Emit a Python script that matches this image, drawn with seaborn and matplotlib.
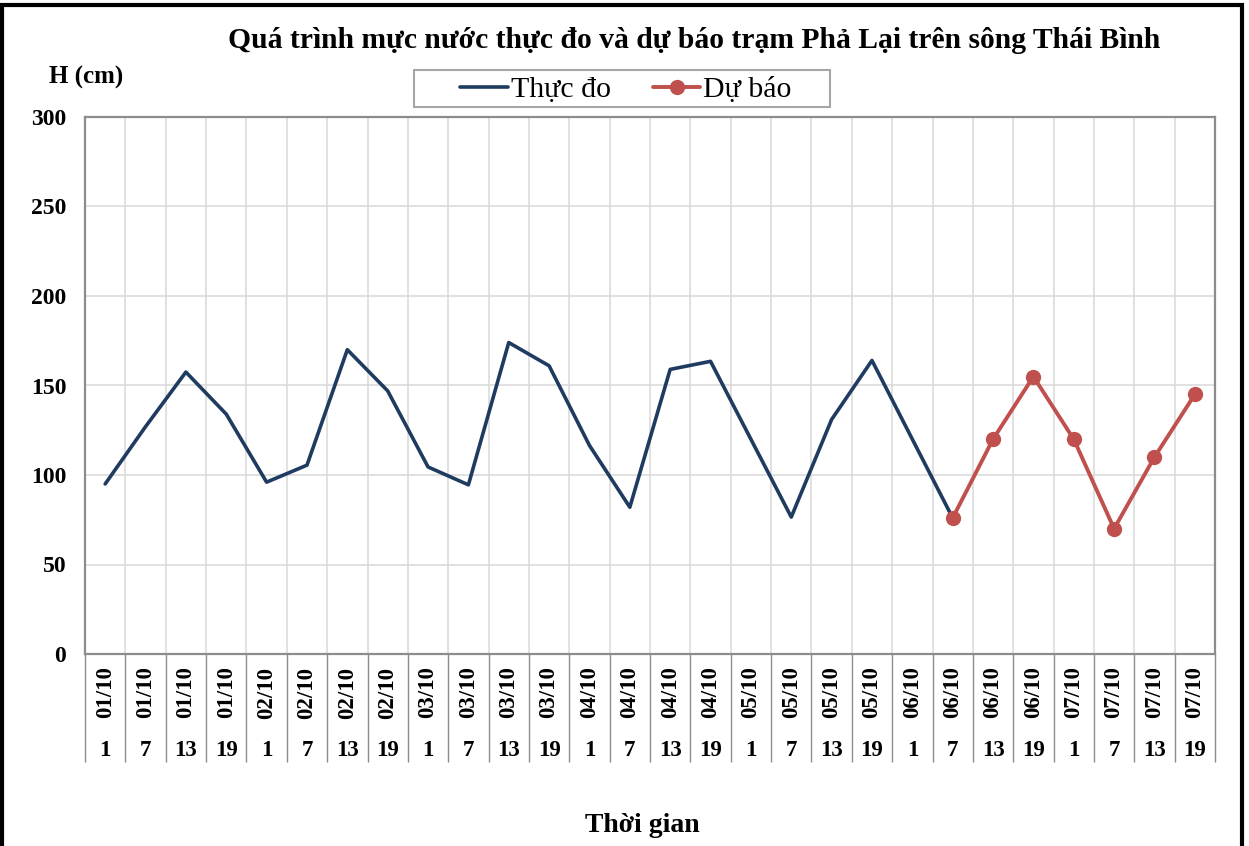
import matplotlib
matplotlib.use("Agg")
import matplotlib.pyplot as plt
import matplotlib.patches as mpatches
import matplotlib.transforms as mtransforms
import seaborn as sns
import pandas as pd
import numpy as np

# ---- data ----
dates = ["01/10"] * 4 + ["02/10"] * 4 + ["03/10"] * 4 + ["04/10"] * 4 + \
        ["05/10"] * 4 + ["06/10"] * 4 + ["07/10"] * 4
hours = ["1", "7", "13", "19"] * 7
observed = [95, 127, 157.5, 134, 96, 105.5, 170, 147, 104.5, 94.5, 174, 161,
            116.5, 82, 159, 163.5, 120, 76.5, 131, 164, 120, 76]
forecast_start = 21
forecast = [76, 120, 155, 120, 70, 110, 145]

y_ticks = [0, 50, 100, 150, 200, 250, 300]
title = "Quá trình mực nước thực đo và dự báo trạm Phả Lại trên sông Thái Bình"
y_label = "H (cm)"
x_label = "Thời gian"
series_names = ["Thực đo", "Dự báo"]

# ---- styling ----
sns.set_theme(style="white")
plt.rcParams["font.family"] = ["Liberation Serif", "DejaVu Serif"]
plt.rcParams["text.color"] = "black"
plt.rcParams["xtick.color"] = "black"
plt.rcParams["ytick.color"] = "black"
plt.rcParams["xtick.labelcolor"] = "black"
plt.rcParams["ytick.labelcolor"] = "black"

blue = "#1F3B60"
red = "#C0504D"
grid_c = "#D9D9D9"
axis_c = "#8C8C8C"

W, H = 1249, 846
fig = plt.figure(figsize=(W / 100, H / 100), dpi=100)
ax = fig.add_axes([85 / W, 1 - 654 / H, (1215 - 85) / W, (654 - 117) / H])

df_obs = pd.DataFrame({"x": np.arange(len(observed)), "y": observed,
                       "s": series_names[0]})
df_fc = pd.DataFrame({"x": np.arange(forecast_start, forecast_start + len(forecast)),
                      "y": forecast, "s": series_names[1]})

sns.lineplot(data=df_obs, x="x", y="y", color=blue, linewidth=2.6, ax=ax,
             label=series_names[0], zorder=3)
sns.lineplot(data=df_fc, x="x", y="y", color=red, linewidth=2.8, marker="o",
             markersize=11, markeredgewidth=0, ax=ax, label=series_names[1],
             zorder=4)

n = len(dates)
ax.set_xlim(-0.5, n - 0.5)
ax.set_ylim(0, 300)
ax.set_yticks(y_ticks)
ax.set_yticklabels([str(v) for v in y_ticks], fontsize=17, fontweight="bold",
                   color="black")

# x axis: category centres labeled with dates (rotated), boundaries as minor ticks
ax.set_xticks(np.arange(n))
ax.set_xticklabels(dates, rotation=90, fontsize=16.5, fontweight="bold",
                   color="black")
ax.set_xticks(np.arange(n + 1) - 0.5, minor=True)
ax.tick_params(axis="x", which="major", bottom=True, length=0, pad=9)
ax.tick_params(axis="x", which="minor", bottom=True, length=78, width=1.0,
               color=axis_c, direction="out")
ax.tick_params(axis="y", which="major", left=True, length=0, pad=13.5)

trans = mtransforms.blended_transform_factory(ax.transData, ax.transAxes)
for i, h in enumerate(hours):
    ax.text(i, -0.18, h, transform=trans, ha="center", va="center",
            fontsize=16.5, fontweight="bold", color="black")

ax.grid(False)
ax.grid(True, axis="y", which="major", color=grid_c, linewidth=1.1)
ax.grid(True, axis="x", which="minor", color=grid_c, linewidth=1.1)
ax.set_axisbelow(True)
for sp in ax.spines.values():
    sp.set_visible(True)
    sp.set_color(axis_c)
    sp.set_linewidth(1.6)

ax.set_xlabel("")
ax.set_ylabel("")

leg = ax.legend(loc="center", bbox_to_anchor=(626 / W, 1 - 90 / H),
                bbox_transform=fig.transFigure, ncol=2, frameon=False,
                fontsize=21.5, handlelength=1.6, handletextpad=0.1,
                columnspacing=1.4, borderpad=0.2)
for t in leg.get_texts():
    t.set_color("black")
# Excel-style legend box (drawn beneath the axes layer)
fig.patches.append(mpatches.Rectangle((414 / W, 1 - 107 / H), (830 - 414) / W,
                                      (107 - 70) / H, transform=fig.transFigure,
                                      fill=True, facecolor="white",
                                      edgecolor="#A6A6A6", linewidth=1.5,
                                      zorder=-1))

fig.text(694 / W, 1 - 40 / H, title, ha="center", va="center",
         fontsize=21.3, fontweight="bold", color="black")
fig.text(86 / W, 1 - 77 / H, y_label, ha="center", va="center",
         fontsize=18, fontweight="bold", color="black")
fig.text(642 / W, 1 - 825 / H, x_label, ha="center", va="center",
         fontsize=20, fontweight="bold", color="black")

# outer chart border (Excel chart frame)
fig.patches.append(mpatches.Rectangle((2 / W, -0.05), (1242 - 2) / W,
                                      1.05 - 5 / H, transform=fig.transFigure,
                                      fill=False, edgecolor="black",
                                      linewidth=3, clip_on=False))

fig.savefig("out.png", dpi=100)
